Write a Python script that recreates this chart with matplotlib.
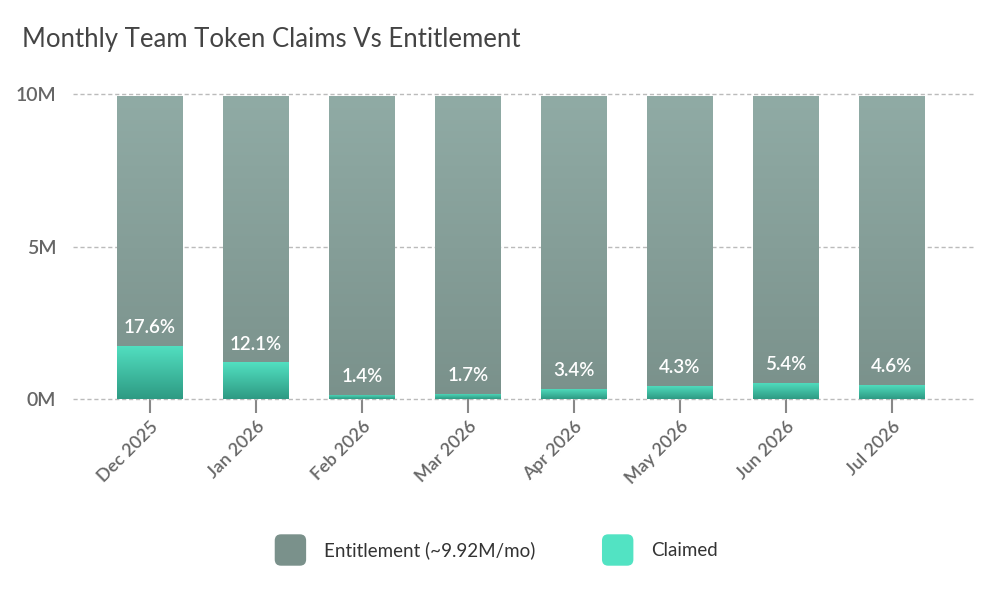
import matplotlib
matplotlib.use("Agg")
import matplotlib.pyplot as plt
import matplotlib.patches as mpatches
from matplotlib.legend_handler import HandlerPatch
import numpy as np
from matplotlib.colors import LinearSegmentedColormap

plt.rcParams['font.family'] = ['Lato', 'DejaVu Sans']

months = ["Dec 2025", "Jan 2026", "Feb 2026", "Mar 2026",
          "Apr 2026", "May 2026", "Jun 2026", "Jul 2026"]
entitlement = [9.92, 9.92, 9.92, 9.92, 9.92, 9.92, 9.92, 9.92]  # millions
claimed = [1.75, 1.20, 0.14, 0.17, 0.34, 0.43, 0.54, 0.46]      # millions
claimed_pct = ["17.6%", "12.1%", "1.4%", "1.7%", "3.4%", "4.3%", "5.4%", "4.6%"]
yticks = [0, 5, 10]
ytick_labels = ["0M", "5M", "10M"]

ent_cmap = LinearSegmentedColormap.from_list("ent", ["#7a918b", "#90aba5"])
clm_cmap = LinearSegmentedColormap.from_list("clm", ["#2e9a83", "#52e0c1"])


def gradient_fill(ax, bars, cmap):
    grad = np.linspace(0, 1, 256).reshape(-1, 1)
    for b in bars:
        x0, y0 = b.get_x(), b.get_y()
        w, h = b.get_width(), b.get_height()
        im = ax.imshow(grad, cmap=cmap, origin='lower', aspect='auto',
                       extent=(x0, x0 + w, y0, y0 + h), zorder=b.get_zorder())
        im.set_clip_path(b)


class RoundSquare(HandlerPatch):
    def create_artists(self, legend, orig_handle, xdescent, ydescent,
                       width, height, fontsize, trans):
        s = height
        p = mpatches.FancyBboxPatch((-xdescent + (width - s) / 2, -ydescent), s, s,
                                    boxstyle='round,pad=0,rounding_size=%f' % (s * 0.2),
                                    facecolor=orig_handle.get_facecolor(),
                                    edgecolor='none', transform=trans)
        return [p]


fig = plt.figure(figsize=(10.01, 6), dpi=100)
ax = fig.add_axes([73 / 1001, 1 - 399 / 600, 902 / 1001, 305 / 600])

x = np.arange(len(months))
w = 0.62
ent_bars = ax.bar(x, entitlement, width=w, color='none', zorder=2)
gradient_fill(ax, ent_bars, ent_cmap)
clm_bars = ax.bar(x, claimed, width=w, color='none', zorder=3)
gradient_fill(ax, clm_bars, clm_cmap)

for xi, c, lab in zip(x, claimed, claimed_pct):
    ax.annotate(lab, (xi, c), xytext=(0, 18), textcoords='offset pixels',
                ha='center', va='center', color='white', fontsize=13.5,
                fontweight='semibold', zorder=5)

ax.set_xlim(-0.726, 7.783)
ax.set_ylim(0, 10)
ax.set_yticks(yticks)
ax.set_yticklabels(ytick_labels)
ax.set_xticks(x)
ax.set_xticklabels(months, rotation=45, ha='right', va='top',
                   rotation_mode='anchor')
for s in ax.spines.values():
    s.set_visible(False)
ax.tick_params(axis='y', length=0, pad=12, labelsize=14, labelcolor='#666666')
ax.tick_params(axis='x', length=10, width=1.5, color='#888888', pad=4,
               labelsize=13, labelcolor='#666666')
for lab in ax.get_yticklabels():
    lab.set_fontweight('semibold')
for lab in ax.get_xticklabels():
    lab.set_fontweight('semibold')
ax.yaxis.grid(True, linestyle=(0, (3, 2)), color='#bbbbbb', linewidth=1)
ax.set_axisbelow(True)
for gl in ax.get_ygridlines():
    gl.set_clip_on(False)

fig.text(22 / 1001, 1 - 40 / 600, "Monthly Team Token Claims Vs Entitlement",
         fontsize=18.5, color='#444444', va='center', ha='left')

handles = [
    mpatches.Patch(facecolor='#7a918b', label='Entitlement (~9.92M/mo)'),
    mpatches.Patch(facecolor='#52e3c3', label='Claimed'),
]
fig.legend(handles=handles, loc='center', bbox_to_anchor=(0.4935, 1 - 550 / 600),
           ncol=2, frameon=False, fontsize=13.5, handlelength=2.2,
           handleheight=2.2, handletextpad=0.7, columnspacing=3.28,
           labelcolor='#333333', handler_map={mpatches.Patch: RoundSquare()})

fig.savefig("out.png", dpi=100)
